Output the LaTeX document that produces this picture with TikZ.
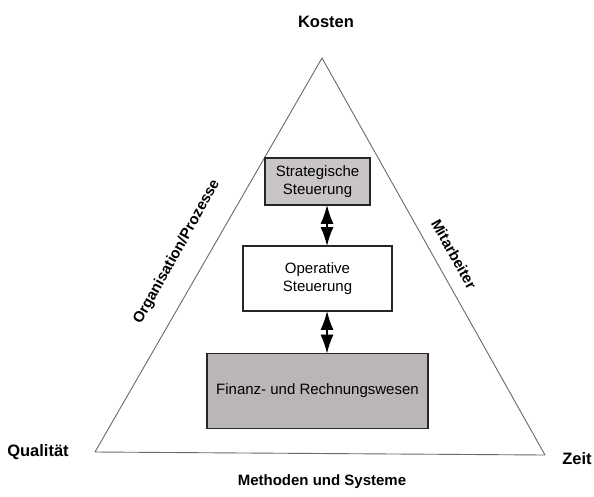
\documentclass[tikz,border=0pt]{standalone}
\usepackage{fontspec}
\setmainfont{Liberation Sans}
\usetikzlibrary{arrows.meta}
\definecolor{boxgrayA}{HTML}{C8C4C8}
\definecolor{boxgrayB}{HTML}{B9B5B9}
\definecolor{edgegray}{HTML}{6A6A6A}
\tikzset{
  lbl/.style={font=\fontsize{15}{17}\selectfont\bfseries, inner sep=0pt},
  biglbl/.style={font=\fontsize{16.5}{19}\selectfont\bfseries, inner sep=0pt},
  boxnode/.style={draw=black!85, line width=1.6pt, align=center, inner sep=0pt,
    font=\fontsize{15}{17.5}\selectfont},
  dbl/.style={line width=1.8pt, {Latex[length=19pt,width=13pt]}-{Latex[length=19pt,width=13pt]}, shorten <=-1pt, shorten >=-1pt},
  edge/.style={draw=edgegray, line width=0.9pt, line join=round}
}
\begin{document}
\begin{tikzpicture}[x=1pt,y=-1pt]
\useasboundingbox (0,0) rectangle (594,496);
\fill[white] (0,0) rectangle (594,496);
% triangle
\coordinate (apex) at (322,58);
\coordinate (bl) at (95,452);
\coordinate (br) at (545,455);
\draw[edge] (apex) -- (bl) -- (br) -- cycle;
% boxes
\node[boxnode, fill=boxgrayA, minimum width=105pt, minimum height=47pt] (strat) at (317.5,181.5) {Strategische\\Steuerung};
\node[boxnode, fill=white, minimum width=149pt, minimum height=65pt] (oper) at (317.5,278.5) {Operative\\Steuerung};
\node[boxnode, fill=boxgrayB, minimum width=221pt, minimum height=75pt] (fin) at (317.5,391) {Finanz- und Rechnungswesen};
% arrows
\coordinate (ax) at (327,0);
\draw[dbl] (strat.south -| ax) -- (oper.north -| ax);
\draw[dbl] (oper.south -| ax) -- (fin.north -| ax);
% labels
\node[biglbl] (kosten) at (326,22) {Kosten};
\node[biglbl] (qual) at (38,452) {Qualität};
\node[biglbl] (zeit) at (577,459) {Zeit};
\node[lbl] (meth) at (322,482) {Methoden und Systeme};
\node[lbl, rotate=61] (org) at (177,252) {Organisation/Prozesse};
\node[lbl, rotate=-61] (mit) at (454,254) {Mitarbeiter};
\end{tikzpicture}
\end{document}
